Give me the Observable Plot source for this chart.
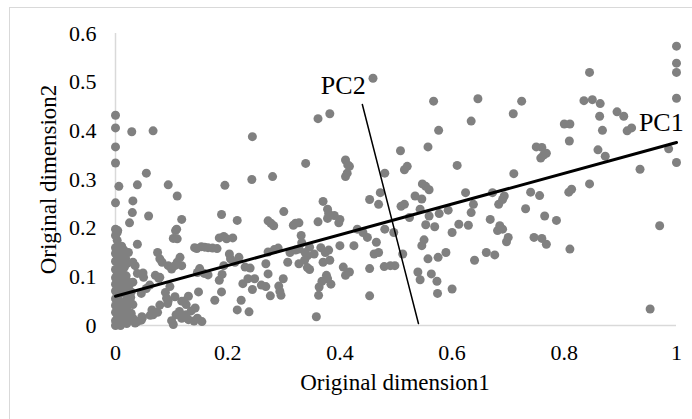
<!DOCTYPE html>
<html>
<head>
<meta charset="utf-8">
<script src="https://cdn.jsdelivr.net/npm/d3@7"></script>
<script src="https://cdn.jsdelivr.net/npm/@observablehq/plot@0.6"></script>
<style>
  html, body { margin: 0; padding: 0; background: #fff; }
  #wrap { position: relative; width: 692px; height: 419px; overflow: hidden; }
  #border { position: absolute; left: 9px; top: 7px; width: 720px; height: 440px; border: 1px solid #d9d9d9; box-sizing: border-box; pointer-events: none; }
</style>
</head>
<body>
<div id="wrap"><div id="border"></div></div>
<script>
// Original dimension1 / dimension2 values
const pairs = [
  [1.0,0.574],[1.0,0.539],[1.0,0.52],[1.0,0.467],[1.0,0.335],[0.986,0.363],[0.97,0.205],[0.953,0.034],[0.935,0.321],
  [0.845,0.52],[0.835,0.462],[0.85,0.464],[0.864,0.456],[0.863,0.43],[0.868,0.401],[0.894,0.439],[0.906,0.43],
  [0.912,0.40],[0.92,0.406],[0.86,0.361],[0.873,0.348],[0.845,0.291],[0.80,0.414],[0.81,0.414],[0.809,0.379],
  [0.724,0.461],[0.709,0.435],[0.75,0.367],[0.76,0.366],[0.768,0.354],[0.758,0.344],[0.763,0.35],[0.71,0.312],
  [0.693,0.266],[0.74,0.274],[0.756,0.267],[0.731,0.24],[0.765,0.225],[0.786,0.216],[0.808,0.274],[0.813,0.28],
  [0.81,0.157],[0.768,0.167],[0.76,0.179],[0.746,0.181],[0.70,0.181],[0.697,0.172],[0.685,0.205],[0.69,0.198],
  [0.681,0.195],[0.668,0.218],[0.672,0.273],[0.69,0.259],[0.683,0.249],[0.676,0.145],[0.661,0.15],[0.64,0.134],
  [0.638,0.249],[0.634,0.232],[0.624,0.273],[0.629,0.206],[0.612,0.208],[0.60,0.191],[0.609,0.329],[0.646,0.466],
  [0.634,0.42],[0.567,0.461],[0.576,0.401],[0.557,0.367],[0.593,0.237],[0.577,0.23],[0.559,0.225],[0.569,0.203],
  [0.553,0.207],[0.543,0.239],[0.546,0.26],[0.534,0.266],[0.559,0.279],[0.553,0.286],[0.547,0.291],[0.589,0.15],
  [0.575,0.14],[0.557,0.137],[0.573,0.091],[0.574,0.066],[0.60,0.075],[0.546,0.164],[0.55,0.176],[0.539,0.11],
  [0.543,0.094],[0.563,0.106],[0.512,0.147],[0.524,0.222],[0.509,0.245],[0.515,0.249],[0.52,0.327],[0.515,0.32],
  [0.508,0.359],[0.498,0.123],[0.49,0.123],[0.479,0.121],[0.496,0.191],[0.48,0.198],[0.48,0.313],[0.472,0.273],
  [0.469,0.249],[0.453,0.259],[0.459,0.508],[0.453,0.117],[0.453,0.061],[0.441,0.191],[0.449,0.181],[0.465,0.171],
  [0.461,0.147],[0.469,0.15],[0.431,0.198],[0.425,0.164],[0.417,0.11],[0.406,0.12],[0.41,0.103],[0.40,0.164],
  [0.41,0.34],[0.414,0.33],[0.417,0.327],[0.413,0.313],[0.41,0.306],[0.382,0.435],[0.361,0.425],[0.378,0.239],
  [0.37,0.255],[0.38,0.23],[0.39,0.226],[0.378,0.22],[0.40,0.218],[0.398,0.211],[0.361,0.213],[0.354,0.147],
  [0.366,0.16],[0.374,0.15],[0.38,0.155],[0.382,0.134],[0.37,0.13],[0.376,0.103],[0.368,0.091],[0.363,0.079],
  [0.362,0.062],[0.378,0.096],[0.384,0.085],[0.358,0.018],[0.339,0.333],[0.331,0.185],[0.332,0.17],[0.338,0.15],
  [0.346,0.161],[0.327,0.157],[0.342,0.143],[0.321,0.155],[0.337,0.134],[0.327,0.127],[0.346,0.115],[0.342,0.119],
  [0.321,0.21],[0.327,0.211],[0.317,0.206],[0.30,0.234],[0.311,0.15],[0.307,0.13],[0.28,0.306],[0.272,0.215],
  [0.277,0.21],[0.282,0.205],[0.283,0.156],[0.272,0.151],[0.29,0.159],[0.268,0.127],[0.272,0.106],[0.299,0.096],
  [0.291,0.081],[0.293,0.07],[0.295,0.062],[0.26,0.083],[0.268,0.08],[0.276,0.061],[0.244,0.388],[0.243,0.30],
  [0.217,0.216],[0.22,0.14],[0.231,0.12],[0.24,0.118],[0.236,0.096],[0.248,0.096],[0.227,0.086],[0.244,0.074],
  [0.224,0.052],[0.217,0.032],[0.238,0.028],[0.203,0.147],[0.205,0.137],[0.213,0.13],[0.193,0.183],[0.185,0.18],
  [0.209,0.18],[0.198,0.178],[0.189,0.228],[0.195,0.288],[0.193,0.123],[0.19,0.105],[0.185,0.093],[0.189,0.069],
  [0.177,0.052],[0.181,0.158],[0.173,0.159],[0.165,0.16],[0.153,0.162],[0.145,0.158],[0.141,0.16],[0.159,0.161],
  [0.150,0.117],[0.146,0.109],[0.158,0.107],[0.165,0.104],[0.148,0.069],[0.13,0.06],[0.122,0.05],[0.142,0.036],
  [0.135,0.03],[0.126,0.022],[0.146,0.015],[0.154,0.008],[0.14,0.009],[0.13,0.012],[0.118,0.218],[0.109,0.198],
  [0.11,0.178],[0.11,0.266],[0.094,0.289],[0.115,0.14],[0.11,0.13],[0.118,0.123],[0.106,0.123],[0.094,0.123],
  [0.1,0.116],[0.097,0.08],[0.091,0.056],[0.106,0.059],[0.118,0.05],[0.126,0.043],[0.108,0.022],[0.1,0.01],
  [0.103,0.002],[0.114,0.029],[0.118,0.015],[0.075,0.15],[0.079,0.137],[0.083,0.13],[0.071,0.103],[0.079,0.099],
  [0.067,0.40],[0.055,0.313],[0.059,0.225],[0.049,0.108],[0.046,0.066],[0.055,0.076],[0.061,0.083],[0.065,0.032],
  [0.067,0.022],[0.079,0.042],[0.047,0.018],[0.039,0.008],[0.031,0.015],[0.046,0.011],[0.035,0.005],[0.029,0.398],
  [0.039,0.289],[0.031,0.256],[0.03,0.232],[0.039,0.167],[0.025,0.211],[0.031,0.13],[0.035,0.123],[0.031,0.089],
  [0.028,0.069],[0.024,0.045],[0.02,0.035],[0.031,0.043],[0.028,0.025],
  [0,0.432],[0,0.406],[0,0.367],[0,0.334],[0,0.252],[0,0.198],[0.003,0.191],[0,0.185],[0.006,0.286],[0.004,0.195],
  [0,0.16],[0.008,0.158],[0.015,0.155],[0,0.148],[0.012,0.146],[0.004,0.14],[0.018,0.138],[0,0.132],[0.01,0.129],
  [0.006,0.122],[0.016,0.12],[0,0.115],[0.012,0.111],[0.003,0.105],[0.019,0.102],[0,0.098],[0.009,0.094],
  [0.014,0.088],[0,0.085],[0.005,0.079],[0.017,0.076],[0,0.071],[0.011,0.068],[0.004,0.062],[0.02,0.06],[0,0.055],
  [0.008,0.05],[0.015,0.046],[0,0.041],[0.006,0.036],[0.012,0.031],[0,0.027],[0.018,0.022],[0.004,0.019],
  [0.01,0.014],[0,0.01],[0.014,0.006],[0.005,0.003],[0,0.0],[0.02,0.004],[0.009,0.0],[0.025,0.013],[0.013,0.04],
  [0.022,0.09],[0.007,0.108],[0.021,0.128],[0.002,0.152],[0.011,0.163],[0.023,0.15],[0.016,0.07],[0.024,0.082],
  [0.003,0.175],[0.008,0.115],[0.026,0.055],
  [0.039,0.107],[0.05,0.099],[0.077,0.097],[0.107,0.195],[0.103,0.179],[0.062,0.021],[0.048,0.016],[0.075,0.027],
  [0.093,0.045],[0.089,0.068],[0.094,0.051],[0.027,0.058],[0.018,0.088]
];
const dim1 = pairs.map(p => p[0]);
const dim2 = pairs.map(p => p[1]);

// Principal component lines (endpoints)
const pc1X = [0, 1];
const pc1Y = [0.06, 0.376];
const pc2X = [0.440, 0.540];
const pc2Y = [0.454, 0.004];
const pcLabels = ["PC1", "PC2"];
const pcLabelX = [0.933, 0.366];
const pcLabelY = [0.417, 0.493];

const xTicks = [0, 0.2, 0.4, 0.6, 0.8, 1];
const yTicks = [0, 0.1, 0.2, 0.3, 0.4, 0.5, 0.6];
const xTitle = "Original dimension1";
const yTitle = "Original dimension2";

const points = dim1.map((x, i) => ({x, y: dim2[i]}));
const pc1 = pc1X.map((x, i) => ({x, y: pc1Y[i]}));
const pc2 = pc2X.map((x, i) => ({x, y: pc2Y[i]}));
const labels = pcLabels.map((t, i) => ({t, x: pcLabelX[i], y: pcLabelY[i]}));

const chart = Plot.plot({
  width: 692,
  height: 419,
  marginLeft: 115,
  marginRight: 16,
  marginTop: 33,
  marginBottom: 94,
  x: {domain: [0, 1]},
  y: {domain: [0, 0.6]},
  style: {fontFamily: "'Liberation Serif', 'Times New Roman', serif", fontSize: "22px", background: "transparent", color: "#000", overflow: "visible"},
  marks: [
    Plot.ruleY([0], {stroke: "#d9d9d9", strokeWidth: 1.5}),
    Plot.ruleX([0], {y1: 0, y2: 0.6, stroke: "#d9d9d9", strokeWidth: 1.5}),
    Plot.dot(points, {x: "x", y: "y", r: 4.5, fill: "#808080", stroke: "none"}),
    Plot.line(pc1, {x: "x", y: "y", stroke: "#000", strokeWidth: 3}),
    Plot.line(pc2, {x: "x", y: "y", stroke: "#000", strokeWidth: 1.5}),
    Plot.text(labels, {x: "x", y: "y", text: "t", textAnchor: "start", fontSize: 26, fill: "#000"}),
    Plot.axisX({ticks: xTicks, tickSize: 0, tickPadding: 19, tickFormat: d => String(d), label: null, fontSize: 22}),
    Plot.axisY({ticks: yTicks, tickSize: 0, tickPadding: 19, tickFormat: d => String(d), label: null, fontSize: 22}),
    Plot.text([xTitle], {frameAnchor: "bottom", dy: 64, dx: -1, textAnchor: "middle", fontSize: 23, fill: "#000"}),
    Plot.text([yTitle], {frameAnchor: "left", dx: -67, rotate: -90, textAnchor: "middle", fontSize: 23, fill: "#000"})
  ]
});
document.getElementById("wrap").appendChild(chart);
</script>
</body>
</html>
